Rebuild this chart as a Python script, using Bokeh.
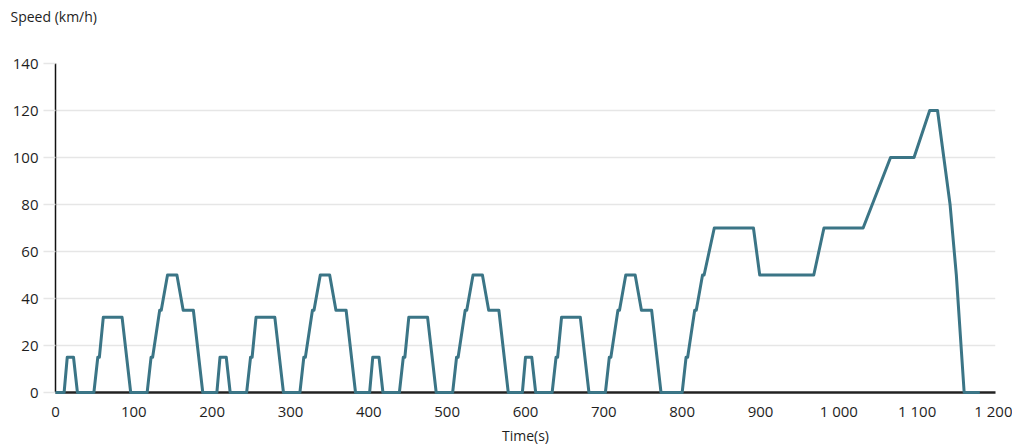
from bokeh.plotting import figure
from bokeh.models import Range1d, FixedTicker, Title
from bokeh.embed import file_html
from bokeh.resources import INLINE

# NEDC speed profile breakpoints
time_s = [
    0, 11, 15, 23, 28, 49, 54, 56, 61, 85, 96, 117, 122, 124, 133, 135, 143, 155, 163, 176, 188,
    195, 206, 210, 218, 223, 244, 249, 251, 256, 280, 291, 312, 317, 319, 328, 330, 338, 350, 358, 371, 383,
    390, 401, 405, 413, 418, 439, 444, 446, 451, 475, 486, 507, 512, 514, 523, 525, 533, 545, 553, 566, 578,
    585, 596, 600, 608, 613, 634, 639, 641, 646, 670, 681, 702, 707, 709, 718, 720, 728, 740, 748, 761, 773,
    780, 800, 805, 807, 816, 818, 826, 828, 841, 891, 899, 968, 981, 1031, 1066, 1096, 1116, 1126, 1142,
    1150, 1160, 1180,
]
speed_kmh = [
    0, 0, 15, 15, 0, 0, 15, 15, 32, 32, 0, 0, 15, 15, 35, 35, 50, 50, 35, 35, 0,
    0, 0, 15, 15, 0, 0, 15, 15, 32, 32, 0, 0, 15, 15, 35, 35, 50, 50, 35, 35, 0,
    0, 0, 15, 15, 0, 0, 15, 15, 32, 32, 0, 0, 15, 15, 35, 35, 50, 50, 35, 35, 0,
    0, 0, 15, 15, 0, 0, 15, 15, 32, 32, 0, 0, 15, 15, 35, 35, 50, 50, 35, 35, 0,
    0, 0, 15, 15, 35, 35, 50, 50, 70, 70, 50, 50, 70, 70, 100, 100, 120, 120, 80,
    50, 0, 0,
]
x_ticks = [0, 100, 200, 300, 400, 500, 600, 700, 800, 900, 1000, 1100, 1200]
x_tick_labels = ["0", "100", "200", "300", "400", "500", "600", "700", "800", "900", "1 000", "1 100", "1 200"]
y_ticks = [0, 20, 40, 60, 80, 100, 120, 140]

FONT = "Open Sans"
TXT = "#1e1e1e"

p = figure(width=1012, height=445, output_backend="svg", toolbar_location=None,
           x_range=Range1d(0, 1200), y_range=Range1d(0, 140),
           min_border_left=55, min_border_right=17, min_border_top=63, min_border_bottom=53)
p.outline_line_color = None
p.background_fill_color = "white"

p.line(time_s, speed_kmh, line_color="#3B7586", line_width=3, line_join="round", level="overlay")

p.xgrid.grid_line_color = None
p.ygrid.grid_line_color = "#e6e6e6"
p.ygrid.grid_line_width = 1.5

p.xaxis.ticker = FixedTicker(ticks=x_ticks)
p.xaxis.major_label_overrides = {t: l for t, l in zip(x_ticks, x_tick_labels)}
p.yaxis.ticker = FixedTicker(ticks=y_ticks)

p.xaxis.axis_line_color = "#222222"
p.xaxis.axis_line_width = 2.5
p.xaxis.major_tick_line_color = None
p.xaxis.minor_tick_line_color = None
p.xaxis.major_label_standoff = 2

p.yaxis.axis_line_color = "#111111"
p.yaxis.axis_line_width = 1.5
p.yaxis.major_tick_line_color = "#e6e6e6"
p.yaxis.major_tick_line_width = 1.5
p.yaxis.major_tick_out = 12
p.yaxis.major_tick_in = 0
p.yaxis.minor_tick_line_color = None
p.yaxis.major_label_standoff = 5

for ax in (p.xaxis, p.yaxis):
    ax.major_label_text_font = FONT
    ax.major_label_text_font_size = "15px"
    ax.major_label_text_color = TXT

# two blank trailing lines lift the axis title well above the frame
top_title = Title(text="Speed (km/h)\n\u00a0\n\u00a0", align="left", offset=-45, standoff=0,
                  text_font=FONT, text_font_size="14px", text_font_style="normal",
                  text_color=TXT)
p.add_layout(top_title, "above")

bottom_title = Title(text="Time(s)", align="center", offset=-37, standoff=1,
                     text_font=FONT, text_font_size="14px", text_font_style="normal",
                     text_color=TXT)
p.add_layout(bottom_title, "below")

open("out.html", "w").write(file_html(p, INLINE))
